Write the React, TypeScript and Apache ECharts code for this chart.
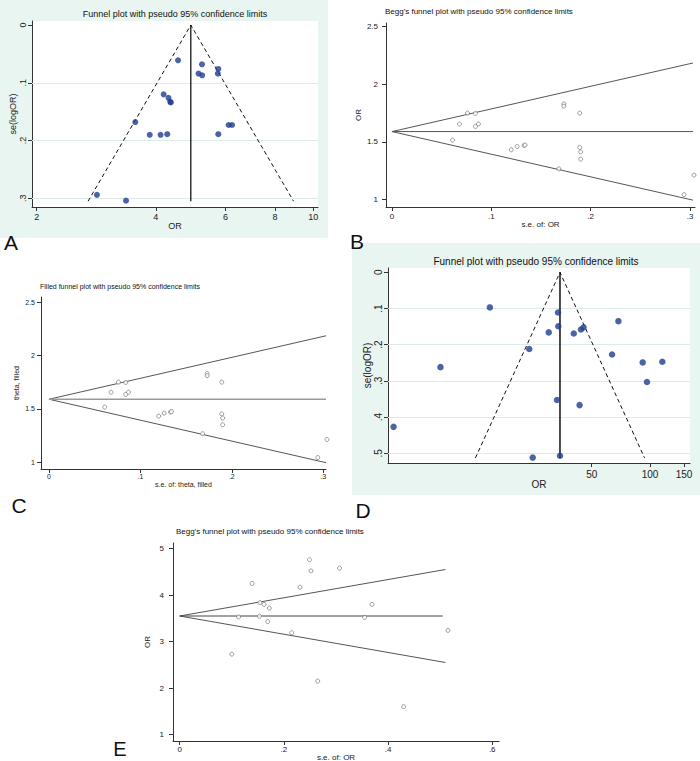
import React, { useEffect, useRef } from 'react';
import * as echarts from 'echarts';

// ---------- Data ----------
// Panels A, B, C share the same studies: standard error and log odds ratio
const studySE = [0.061, 0.068, 0.076, 0.084, 0.084, 0.087, 0.120, 0.126, 0.133, 0.134, 0.168, 0.173, 0.173, 0.189, 0.189, 0.190, 0.190, 0.294, 0.304];
const studyLogOR = [1.516, 1.655, 1.750, 1.747, 1.635, 1.656, 1.432, 1.460, 1.470, 1.474, 1.267, 1.830, 1.810, 1.750, 1.453, 1.414, 1.351, 1.044, 1.213];
const abcPooled = [1.59];
const abcSEMax = [0.305];

// Panel D: odds ratio and se(logOR)
const dOR = [4.74, 8.28, 14.9, 23.8, 24.8, 30.0, 33.1, 33.5, 33.6, 34.3, 40.4, 43.3, 44.0, 45.4, 63.7, 68.7, 91.7, 96.5, 115.8];
const dSE = [0.427, 0.262, 0.097, 0.212, 0.512, 0.166, 0.353, 0.111, 0.149, 0.507, 0.169, 0.367, 0.158, 0.152, 0.227, 0.135, 0.249, 0.303, 0.247];
const dPooled = [3.535];
const dSEMax = [0.513];

// Panel E: s.e. of OR and OR
const eSE = [0.100, 0.113, 0.139, 0.154, 0.162, 0.153, 0.172, 0.169, 0.215, 0.231, 0.249, 0.252, 0.265, 0.307, 0.355, 0.369, 0.430, 0.515];
const eOR = [2.73, 3.53, 4.25, 3.84, 3.80, 3.545, 3.72, 3.43, 3.19, 4.17, 4.76, 4.52, 2.15, 4.58, 3.52, 3.80, 1.60, 3.24];
const ePooled = [3.55];
const eSEMax = [0.51];

// Tick labels
const aORTicks = [2, 4, 6, 8, 10];
const aSETicks = [0, 0.1, 0.2, 0.3];
const bcSETicks = [0, 0.1, 0.2, 0.3];
const bcORTicks = [1, 1.5, 2, 2.5];
const dORTicks = [50, 100, 150];
const dSETicks = [0, 0.1, 0.2, 0.3, 0.4, 0.5];
const eSETicks = [0, 0.2, 0.4, 0.6];
const eORTicks = [1, 2, 3, 4, 5];

// ---------- Styles ----------
const NAVY = '#1f3d8e';
const MINT = '#e9f5f0';
const GRIDLINE = '#dcece6';
const AXIS = '#333';
const LABEL = '#222';
const FONT = '"Liberation Sans", Arial, sans-serif';

const seFmt = (v: number) => (Math.abs(v) < 1e-9 ? '0' : String(+v.toFixed(2)).replace(/^0\./, '.'));
const lnFmt = (v: number) => String(Math.round(Math.exp(v)));
const numFmt = (v: number) => String(+v.toFixed(2));

function makeAxis(o: any) {
  return {
    type: 'value',
    gridIndex: o.grid,
    min: o.min,
    max: o.max,
    inverse: !!o.inverse,
    axisLine: { show: true, onZero: false, lineStyle: { color: AXIS, width: 1 } },
    axisTick: { show: true, customValues: o.ticks, length: 4, lineStyle: { color: AXIS, width: 1 } },
    axisLabel: {
      customValues: o.ticks,
      formatter: o.fmt,
      fontSize: o.fontSize,
      margin: o.margin,
      rotate: o.rotate || 0,
      color: LABEL,
      fontFamily: FONT,
    },
    splitLine: { show: false },
    name: o.name,
    nameLocation: 'middle',
    nameGap: o.nameGap,
    nameTextStyle: { fontSize: o.nameSize || o.fontSize, color: LABEL, fontFamily: FONT },
  };
}

function lineSeries(x: number, y: number, data: number[][], style: any, extra: any = {}) {
  return {
    type: 'line',
    xAxisIndex: x,
    yAxisIndex: y,
    data,
    symbol: 'none',
    silent: true,
    lineStyle: style,
    z: 3,
    ...extra,
  };
}

function buildOption() {
  const p = abcPooled[0];
  const m = abcSEMax[0];
  const dp = dPooled[0];
  const dm = dSEMax[0];
  const ep = ePooled[0];
  const em = eSEMax[0];

  const hollow = { color: '#fff', borderColor: '#666', borderWidth: 0.8 };

  const grids = [
    { left: 32, top: 21, width: 286, height: 186, show: true, backgroundColor: '#fff', borderWidth: 0 },
    { left: 386, top: 23, width: 309, height: 184, show: false },
    { left: 41, top: 297, width: 285, height: 172, show: false },
    { left: 388, top: 268, width: 302, height: 195, show: true, backgroundColor: '#fff', borderWidth: 0 },
    { left: 173, top: 543, width: 326, height: 198, show: false },
  ].map((g) => ({ ...g, containLabel: false, outerBoundsMode: 'none' }));

  const xAxis = [
    makeAxis({ grid: 0, min: 0.666, max: 2.33, ticks: aORTicks.map(Math.log), fmt: lnFmt, fontSize: 9, margin: 5, name: 'OR', nameGap: 13 }),
    makeAxis({ grid: 1, min: -0.006, max: 0.305, ticks: bcSETicks, fmt: seFmt, fontSize: 8, margin: 5, name: 's.e. of: OR', nameGap: 12 }),
    makeAxis({ grid: 2, min: -0.0087, max: 0.303, ticks: bcSETicks, fmt: seFmt, fontSize: 7, margin: 4, name: 's.e. of: theta, filled', nameGap: 11 }),
    makeAxis({ grid: 3, min: 1.49, max: 5.081, ticks: dORTicks.map(Math.log), fmt: lnFmt, fontSize: 10, margin: 6, name: 'OR', nameGap: 14 }),
    makeAxis({ grid: 4, min: -0.0129, max: 0.613, ticks: eSETicks, fmt: seFmt, fontSize: 8, margin: 4, name: 's.e. of: OR', nameGap: 9 }),
  ];

  const yAxis = [
    makeAxis({ grid: 0, min: -0.007, max: 0.315, inverse: true, ticks: aSETicks, fmt: seFmt, fontSize: 9, margin: 5, rotate: 90, name: 'se(logOR)', nameGap: 14 }),
    makeAxis({ grid: 1, min: 0.937, max: 2.53, ticks: bcORTicks, fmt: numFmt, fontSize: 8, margin: 8, name: 'OR', nameGap: 24 }),
    makeAxis({ grid: 2, min: 0.937, max: 2.547, ticks: bcORTicks, fmt: numFmt, fontSize: 7, margin: 6, name: 'theta, filled', nameGap: 21 }),
    makeAxis({ grid: 3, min: -0.012, max: 0.527, inverse: true, ticks: dSETicks, fmt: seFmt, fontSize: 10, margin: 5, rotate: 90, name: 'se(logOR)', nameGap: 14 }),
    makeAxis({ grid: 4, min: 0.862, max: 5.12, ticks: eORTicks, fmt: numFmt, fontSize: 8, margin: 9, name: 'OR', nameGap: 22 }),
  ];

  const gridMark = (vals: number[]) => ({
    silent: true,
    z: 1,
    symbol: 'none',
    label: { show: false },
    lineStyle: { color: GRIDLINE, width: 1, type: 'solid' },
    data: vals.filter((v) => v > 0).map((v) => ({ yAxis: v })),
  });

  const series: any[] = [
    // ----- Panel A -----
    lineSeries(0, 0, [[p - 1.96 * m, m], [p, 0], [p + 1.96 * m, m]], { color: '#111', width: 1, type: [4, 3] }, { markLine: gridMark(aSETicks), z: 2 }),
    lineSeries(0, 0, [[p, 0], [p, m]], { color: '#000', width: 1.2 }),
    {
      type: 'scatter', xAxisIndex: 0, yAxisIndex: 0,
      data: studyLogOR.map((v, i) => [v, studySE[i]]),
      symbolSize: 6, itemStyle: { color: NAVY }, z: 6, clip: false,
    },

    // ----- Panel B -----
    lineSeries(1, 1, [[0, p], [m - 0.002, p + 1.96 * (m - 0.002)]], { color: '#555', width: 1 }),
    lineSeries(1, 1, [[0, p], [m - 0.002, p - 1.96 * (m - 0.002)]], { color: '#555', width: 1 }),
    lineSeries(1, 1, [[0, p], [m - 0.002, p]], { color: '#555', width: 1 }),
    {
      type: 'scatter', xAxisIndex: 1, yAxisIndex: 1,
      data: studySE.map((s, i) => [s, studyLogOR[i]]),
      symbol: 'circle', symbolSize: 4, itemStyle: hollow, z: 6, clip: false,
    },

    // ----- Panel C -----
    lineSeries(2, 2, [[0, p], [m - 0.002, p + 1.96 * (m - 0.002)]], { color: '#555', width: 1 }),
    lineSeries(2, 2, [[0, p], [m - 0.002, p - 1.96 * (m - 0.002)]], { color: '#555', width: 1 }),
    lineSeries(2, 2, [[0, p], [m - 0.002, p]], { color: '#999', width: 1.6 }),
    {
      type: 'scatter', xAxisIndex: 2, yAxisIndex: 2,
      data: studySE.map((s, i) => [s, studyLogOR[i]]),
      symbol: 'circle', symbolSize: 4, itemStyle: hollow, z: 6, clip: false,
    },

    // ----- Panel D -----
    lineSeries(3, 3, [[dp - 1.96 * dm, dm], [dp, 0], [dp + 1.96 * dm, dm]], { color: '#111', width: 1, type: [4, 3] }, { markLine: gridMark(dSETicks), z: 2 }),
    lineSeries(3, 3, [[dp, 0], [dp, dm]], { color: '#000', width: 1.4 }),
    {
      type: 'scatter', xAxisIndex: 3, yAxisIndex: 3,
      data: dOR.map((v, i) => [Math.log(v), dSE[i]]),
      symbolSize: 6.5, itemStyle: { color: NAVY }, z: 6, clip: false,
    },

    // ----- Panel E -----
    lineSeries(4, 4, [[0, ep], [em, ep + 1.96 * em]], { color: '#555', width: 1 }),
    lineSeries(4, 4, [[0, ep], [em, ep - 1.96 * em]], { color: '#555', width: 1 }),
    lineSeries(4, 4, [[0, ep], [em - 0.005, ep]], { color: '#444', width: 1 }),
    {
      type: 'scatter', xAxisIndex: 4, yAxisIndex: 4,
      data: eSE.map((s, i) => [s, eOR[i]]),
      symbol: 'circle', symbolSize: 4, itemStyle: hollow, z: 6, clip: false,
    },
  ];

  const txt = (text: string, x: number, y: number, size: number, align: string = 'center', color: string = '#111') => ({
    type: 'text',
    x,
    y,
    silent: true,
    z: 10,
    style: { text, fontSize: size, fontFamily: FONT, fill: color, align, verticalAlign: 'middle' },
  });

  const graphic = [
    { type: 'rect', shape: { x: 0, y: 0, width: 328, height: 238 }, style: { fill: MINT }, z: -10, silent: true },
    { type: 'rect', shape: { x: 352, y: 243, width: 348, height: 252 }, style: { fill: MINT }, z: -10, silent: true },
    txt('Funnel plot with pseudo 95% confidence limits', 175, 14, 9),
    txt("Begg's funnel plot with pseudo 95% confidence limits", 385, 11, 8, 'left'),
    txt('Filled funnel plot with pseudo 95% confidence limits', 40, 286, 7, 'left'),
    txt('Funnel plot with pseudo 95% confidence limits', 536, 261, 10),
    txt("Begg's funnel plot with pseudo 95% confidence limits", 176, 531, 8, 'left'),
    txt('A', 11, 242, 21),
    txt('B', 357, 241, 21),
    txt('C', 19, 505, 21),
    txt('D', 363, 510, 21),
    txt('E', 120, 749, 20),
  ];

  return {
    animation: false,
    backgroundColor: '#fff',
    textStyle: { fontFamily: FONT },
    grid: grids,
    xAxis,
    yAxis,
    series,
    graphic,
  };
}

export default function App() {
  const ref = useRef<HTMLDivElement>(null);
  useEffect(() => {
    if (!ref.current) return;
    const chart = echarts.init(ref.current, undefined, { renderer: 'svg' });
    chart.setOption(buildOption() as any);
    return () => chart.dispose();
  }, []);
  return (
    <div
      ref={ref}
      style={{ position: 'fixed', left: 0, top: 0, width: 700, height: 761, background: '#fff' }}
    />
  );
}
